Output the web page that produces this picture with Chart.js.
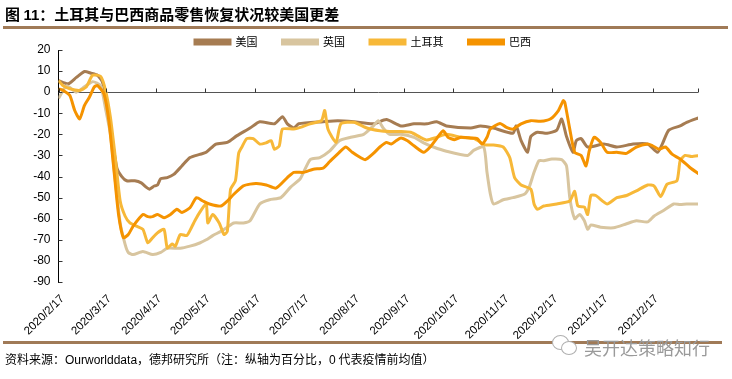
<!DOCTYPE html>
<html>
<head>
<meta charset="utf-8">
<script src="https://cdn.jsdelivr.net/npm/chart.js@4.4.1/dist/chart.umd.min.js"></script>
<style>
	body { margin: 0; background: #fff; }
	#wrap { position: relative; width: 732px; height: 379px; overflow: hidden; }
	#wrap canvas { position: absolute; left: 0; top: 0; }
	.rule { position: absolute; left: 3px; height: 3px; background: #a07a57; }
	#title { position: absolute; left: 5px; top: 3px; font: bold 15px "Noto Sans CJK SC", sans-serif; color: #000; white-space: nowrap; }
	#title .num { font-family: "Liberation Sans", Arial, sans-serif; }
	#source { position: absolute; left: 5px; top: 350px; font: 12px "Noto Sans CJK SC", sans-serif; color: #000; white-space: nowrap; }
	#source .lat { font-family: "Liberation Sans", Arial, sans-serif; }
	#mark { position: absolute; left: 584px; top: 334px; font: 18px "Noto Sans CJK SC", sans-serif; color: #9a9a9a; white-space: nowrap; }
	.bub { position: absolute; border: 1.5px solid #b0b0b0; border-radius: 50%; background: #fff; }
</style>
</head>
<body>
<div id="wrap">
	<canvas id="chart" width="732" height="379"></canvas>
	<div id="title">图 <span class="num">11</span>：土耳其与巴西商品零售恢复状况较美国更差</div>
	<div class="rule" style="top:26px; width:725px;"></div>
	<div class="rule" style="top:341px; width:719px;"></div>
	<div class="bub" style="left:552px; top:335px; width:15px; height:13px;"></div>
	<div class="bub" style="left:561px; top:341px; width:14px; height:12px;"></div>
	<div id="mark">吴开达策略知行</div>
	<div id="source">资料来源：<span class="lat">Ourworlddata</span>，德邦研究所（注：纵轴为百分比，<span class="lat">0</span> 代表疫情前均值）</div>
</div>
<script>
'use strict';

// days counted from 2020/2/17
const tickDays = [0, 29, 60, 90, 121, 151, 182, 213, 243, 274, 304, 335, 366];
const tickLabels = ['2020/2/17', '2020/3/17', '2020/4/17', '2020/5/17', '2020/6/17', '2020/7/17',
	'2020/8/17', '2020/9/17', '2020/10/17', '2020/11/17', '2020/12/17', '2021/1/17', '2021/2/17'];
const seriesNames = ['美国', '英国', '土耳其', '巴西'];

// [day, value]
const usData = [[0,5.5],[6,4],[11,7],[16,9.8],[20,9],[24,8],[27,5],[30,-5],[33,-22],[36,-36],[39,-40],[42,-42],
	[47,-42],[51,-43],[54,-45],[56,-46],[59,-44.5],[61,-44],[63,-41],[67,-40.5],[71,-39],[76,-35],[81,-31],
	[87,-29.5],[91,-28.5],[97,-24.6],[104,-23.8],[110,-20.6],[118,-17],[124,-14],[133,-15],[138,-11.6],
	[141,-15],[145,-17],[148,-15],[163,-14],[172,-13.5],[182,-14],[194,-15],[202,-13],[211,-16],[219,-15],
	[227,-15],[233,-14],[239,-16],[254,-17],[260,-16],[268,-17],[280,-19.5],[282,-16],[285,-23],[289,-28.5],
	[291,-21],[295,-19],[301,-19.5],[307,-18],[310,-12.7],[313,-21],[317,-28.5],[319,-23],[322,-22],[326,-26],
	[336,-24.6],[344,-26],[354,-24.6],[363,-24.6],[369,-28.5],[372,-24.6],[376,-18],[383,-16],[387,-14.3],[395,-12]];
const ukData = [[0,-3],[5,3],[11,0],[15,2],[21,5],[26,3],[29,-8],[32,-20],[35,-42],[38,-62],[41,-72],[43,-76],
	[46,-77],[52,-75.5],[58,-77],[63,-76],[67,-74],[75,-74],[81,-73],[87,-71.5],[91,-70],[95,-68],[100,-66],
	[104,-64],[108,-62],[114,-62],[118,-61],[124,-53],[130,-51],[137,-50],[143,-45],[149,-41],[155,-32],
	[161,-31],[167,-28],[173,-23],[180,-21.4],[188,-20],[194,-16],[197,-13.5],[200,-17],[204,-20],[211,-20],
	[219,-21.4],[225,-24],[231,-26],[239,-28],[252,-30],[256,-27.5],[262,-26],[264,-38],[266,-48],[268,-53],
	[274,-51],[280,-50],[287,-48.4],[290,-45],[293,-38],[296,-32.5],[299,-32.5],[304,-31.7],[310,-32],[313,-35],
	[315,-50],[318,-60],[321,-58],[324,-61],[326,-65],[328,-63],[334,-64],[342,-64.3],[350,-62.4],[356,-61],
	[363,-61.5],[367,-58.7],[373,-56],[379,-53],[383,-53.3],[387,-53],[395,-53]];
const turkeyData = [[0,5.5],[3,3],[7,1.6],[13,0.8],[17,2.4],[21,8],[26,7.5],[29,0.8],[32,-12],[35,-31],[38,-51.6],
	[41,-58.7],[44,-62],[48,-63.5],[52,-65],[55,-71.4],[58,-69],[61,-66.7],[65,-65],[67,-73.8],[70,-72],[72,-73],
	[75,-67.5],[79,-68],[82,-64],[84,-61],[87,-57],[91,-53],[92,-62],[95,-58],[99,-62],[102,-67.5],[104,-66],
	[106,-46],[109,-42],[111,-29],[113,-26],[116,-22],[120,-22],[124,-24.6],[128,-24],[131,-23],[133,-27],
	[136,-25.5],[138,-17.5],[145,-17.5],[149,-16.7],[155,-15],[162,-13.5],[164,-8.7],[166,-17.5],[171,-23.8],
	[174,-15],[182,-14.3],[190,-17],[198,-18.3],[204,-18.6],[211,-18.6],[217,-19],[223,-21.4],[227,-22.7],
	[233,-21.4],[239,-20],[248,-21.4],[256,-22],[263,-25],[268,-25],[274,-26],[278,-31],[281,-40.5],[285,-44],
	[291,-46],[293,-53],[295,-55.5],[299,-54],[307,-53],[315,-51.6],[318,-47],[320,-54],[324,-54.5],[326,-58],
	[328,-49],[331,-49],[338,-53],[344,-50],[350,-49],[356,-46.8],[363,-44],[367,-44.5],[371,-49.5],[375,-43.6],
	[381,-42],[383,-32.5],[386,-30],[390,-30.5],[395,-30]];
const brazilData = [[0,1.6],[3,0.8],[7,-1.6],[10,-8.7],[13,-12.7],[16,-6.3],[19,-2.4],[22,2.4],[24,3.2],[28,-0.8],
	[31,-13.5],[34,-35.7],[37,-58],[40,-69],[43,-67.5],[46,-63.5],[52,-58],[55,-59],[58,-59],[61,-58],[65,-59.5],
	[69,-58],[73,-55.5],[76,-57],[81,-54.8],[85,-50],[89,-51.6],[93,-53],[100,-54],[104,-51.6],[108,-48.4],
	[114,-44.4],[118,-43.6],[122,-43.3],[128,-44],[134,-45.5],[141,-40.5],[145,-38],[151,-38],[157,-36.5],
	[163,-36],[167,-33],[173,-28.5],[177,-26],[181,-28.5],[186,-31],[189,-32],[194,-29],[198,-26],[202,-23.8],
	[205,-24.6],[208,-23],[211,-21.7],[215,-23],[219,-25.4],[225,-28.5],[229,-26],[233,-22],[237,-18.3],
	[240,-21.4],[244,-22.5],[248,-21.4],[254,-21.7],[258,-22],[261,-24.6],[264,-21.4],[266,-17.5],[272,-14.8],
	[276,-16.7],[280,-17.5],[285,-15],[291,-13.5],[297,-13.8],[303,-12.7],[308,-8.7],[311,-4],[312,-5],
	[315,-17.5],[318,-28.5],[322,-30],[325,-35],[327,-27.8],[330,-21.4],[334,-23.8],[338,-28.5],[344,-28.5],
	[350,-29],[356,-26],[363,-24.6],[366,-25.4],[370,-27],[374,-26],[378,-29.4],[383,-31.7],[389,-35.7],[395,-39]];

const colors = ['#a67c52', '#d8c59f', '#f7b838', '#f59300'];

function toPoints(arr) {
	return arr.map((p) => {
		return {x: p[0], y: p[1]};
	});
}

// small ticks on the y axis and on the zero line
const axisTicks = {
	id: 'axisTicks',
	afterDraw(chart) {
		const ctx = chart.ctx;
		const area = chart.chartArea;
		const x = chart.scales.x;
		const y = chart.scales.y;
		let y0 = Math.round(y.getPixelForValue(0)) + 0.5;

		ctx.save();
		ctx.strokeStyle = '#333';
		ctx.lineWidth = 1;
		ctx.beginPath();
		tickDays.concat([x.max]).forEach((d) => {
			let px = Math.round(x.getPixelForValue(d)) + 0.5;
			ctx.moveTo(px, y0);
			ctx.lineTo(px, y0 - 4);
		});
		y.ticks.forEach((t) => {
			let py = Math.round(y.getPixelForValue(t.value)) + 0.5;
			ctx.moveTo(area.left, py);
			ctx.lineTo(area.left + 4, py);
		});
		ctx.stroke();
		ctx.restore();
	}
};

const allData = [usData, ukData, turkeyData, brazilData];

let chartData = {
	datasets: seriesNames.map((name, i) => {
		return {
			label: name,
			data: toPoints(allData[i]),
			borderColor: colors[i],
			backgroundColor: colors[i],
			borderWidth: 3,
			pointRadius: 0,
			tension: 0.2,
			order: 4 - i
		};
	})
};

let ctx = document.getElementById('chart');
let chart = new Chart(ctx, {
	type: 'line',
	data: chartData,
	plugins: [axisTicks],
	options: {
		responsive: false,
		animation: false,
		layout: {
			padding: {left: 28, right: 34, top: 11.5, bottom: 37}
		},
		plugins: {
			tooltip: {enabled: false},
			legend: {
				position: 'top',
				maxHeight: 38.5,
				labels: {
					sort: (a, b) => a.datasetIndex - b.datasetIndex,
					boxWidth: 35,
					boxHeight: 4,
					padding: 25,
					color: '#000',
					font: {family: '"Noto Sans CJK SC", sans-serif', size: 11}
				}
			}
		},
		scales: {
			x: {
				type: 'linear',
				min: 0,
				max: 394,
				grid: {display: false},
				border: {display: false},
				afterBuildTicks: (scale) => {
					scale.ticks = tickDays.map((d) => ({value: d}));
				},
				afterFit: (scale) => {
					scale.height = 60;
				},
				ticks: {
					autoSkip: false,
					maxRotation: 45,
					minRotation: 45,
					padding: 2,
					labelOffset: 4,
					color: '#000',
					font: {family: '"Liberation Sans", Arial, sans-serif', size: 11.5},
					callback: (value, index) => tickLabels[index]
				}
			},
			y: {
				min: -90,
				max: 20,
				afterFit: (scale) => {
					scale.width = 30.5;
				},
				grid: {
					drawTicks: false,
					color: (c) => c.tick && c.tick.value === 0 ? '#555' : 'rgba(0,0,0,0)'
				},
				border: {display: true, color: '#000', width: 1},
				ticks: {
					stepSize: 10,
					padding: 8,
					color: '#000',
					font: {family: '"Liberation Sans", Arial, sans-serif', size: 12}
				}
			}
		}
	}
});
</script>
</body>
</html>
